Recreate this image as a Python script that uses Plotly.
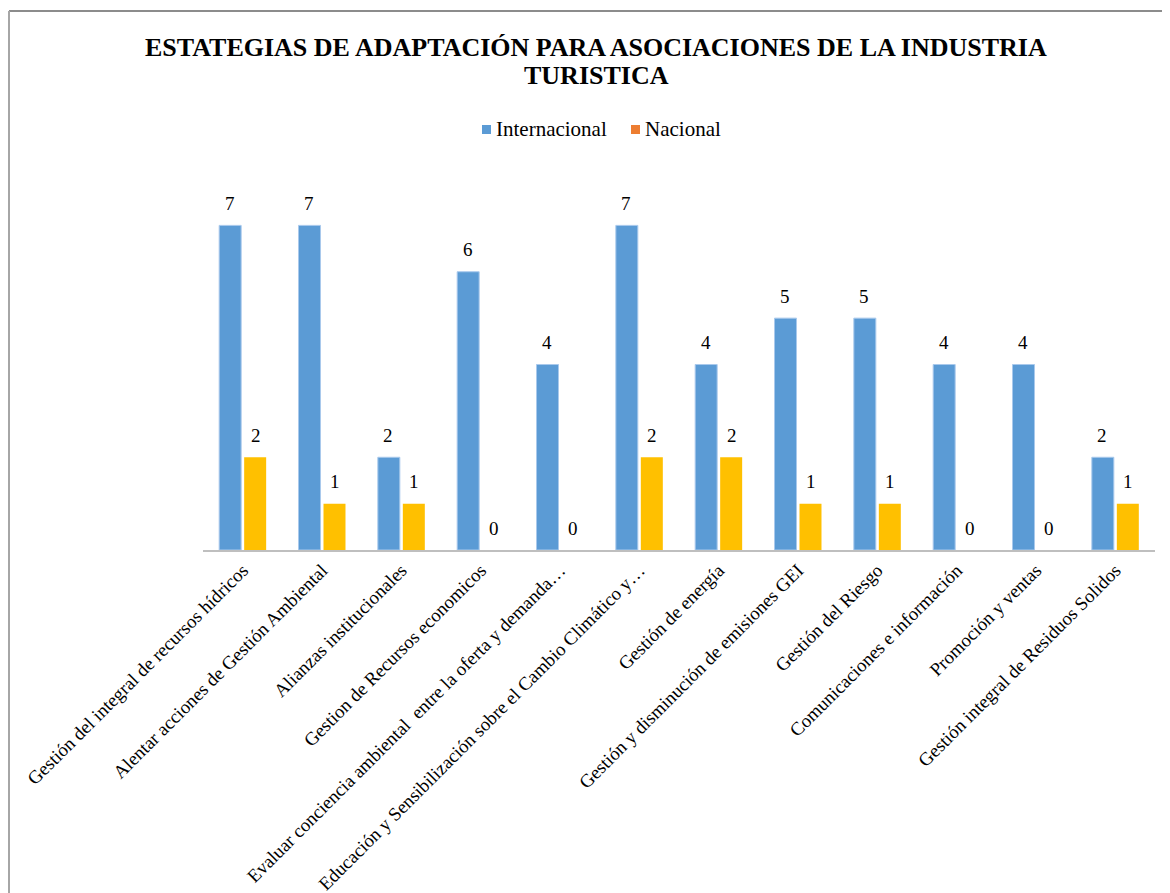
import plotly.graph_objects as go

categorias = [
    "Gestión del integral de recursos hídricos",
    "Alentar acciones de Gestión Ambiental",
    "Alianzas institucionales",
    "Gestion de Recursos economicos",
    "Evaluar conciencia ambiental  entre la oferta y demanda…",
    "Educación y Sensibilización sobre el Cambio Climático y…",
    "Gestión de energía",
    "Gestión y disminución de emisiones GEI",
    "Gestión del Riesgo",
    "Comunicaciones e información",
    "Promoción y ventas",
    "Gestión integral de Residuos Solidos",
]
internacional = [7, 7, 2, 6, 4, 7, 4, 5, 5, 4, 4, 2]
nacional = [2, 1, 1, 0, 0, 2, 2, 1, 1, 0, 0, 1]

titulo = ["ESTATEGIAS DE ADAPTACIÓN PARA ASOCIACIONES DE LA INDUSTRIA", "TURISTICA"]

serif = "Liberation Serif, Times New Roman, serif"
azul = "#5b9bd5"
amarillo = "#ffc000"
naranja = "#ed7d31"

# the page body adds an 8px margin, so everything is laid out 8px up/left
OFF = 8
# plot area in (screen) pixels: x 203..1155, y 179..550
L, R, T, B = 203 - OFF, 1155 - OFF, 179 - OFF, 550 - OFF


def px(xp):
    return (xp - OFF - L) / (R - L)


def py(yp):
    return (B - (yp - OFF)) / (B - T)


fig = go.Figure()

fig.add_trace(go.Bar(
    x=categorias, y=internacional, name="Internacional",
    marker=dict(color=azul, line=dict(color="#a9c9ec", width=1)),
    showlegend=False,
))
fig.add_trace(go.Bar(
    x=categorias, y=nacional, name="Nacional",
    marker=dict(color=amarillo, line=dict(width=0)),
    showlegend=False,
))

# data labels above each bar
for serie, dx in [(internacional, -13), (nacional, 13)]:
    for cat, val in zip(categorias, serie):
        fig.add_annotation(x=cat, y=val, text=str(val), showarrow=False,
                           xshift=dx, yshift=22, yanchor="middle",
                           font=dict(family=serif, size=19, color="black"))

# legend drawn by hand (Nacional key is orange in the original)
leyenda = [("Internacional", azul, 482), ("Nacional", naranja, 631)]
for nombre, color, x0 in leyenda:
    fig.add_shape(type="rect", xref="paper", yref="paper",
                  x0=px(x0), x1=px(x0 + 9), y0=py(134), y1=py(125),
                  fillcolor=color, line=dict(width=0))
    fig.add_annotation(text=nombre, xref="paper", yref="paper",
                       x=px(x0 + 12), y=py(129), xanchor="left", yanchor="middle",
                       showarrow=False,
                       font=dict(family=serif, size=21, color="black"))

# title, two lines
for i, linea in enumerate(titulo):
    fig.add_annotation(text="<b>%s</b>" % linea, xref="paper", yref="paper",
                       x=px(596), y=py(47 + 28 * i), xanchor="center", yanchor="middle",
                       showarrow=False,
                       font=dict(family=serif, size=26, color="black"))

# outer chart frame (top and left edges visible)
fig.add_shape(type="line", xref="paper", yref="paper",
              x0=px(9), x1=px(1180), y0=py(11), y1=py(11),
              line=dict(color="#8c8c8c", width=2))
fig.add_shape(type="line", xref="paper", yref="paper",
              x0=px(9), x1=px(9), y0=py(11), y1=py(905),
              line=dict(color="#a6a6a6", width=2))

fig.update_layout(
    width=1170, height=893,
    margin=dict(l=L, r=1170 - R, t=T, b=893 - B),
    paper_bgcolor="white", plot_bgcolor="white",
    barmode="group", bargap=0.37, bargroupgap=0.12,
    showlegend=False,
)

fig.update_xaxes(
    tickangle=-45, tickfont=dict(family=serif, size=18.8, color="black"),
    showline=True, linecolor="#bfbfbf", linewidth=2,
    showgrid=False, ticks="", automargin=False,
)
fig.update_yaxes(
    range=[0, 8], visible=False, showgrid=False, zeroline=False, automargin=False,
)

fig.write_html("out.html")
